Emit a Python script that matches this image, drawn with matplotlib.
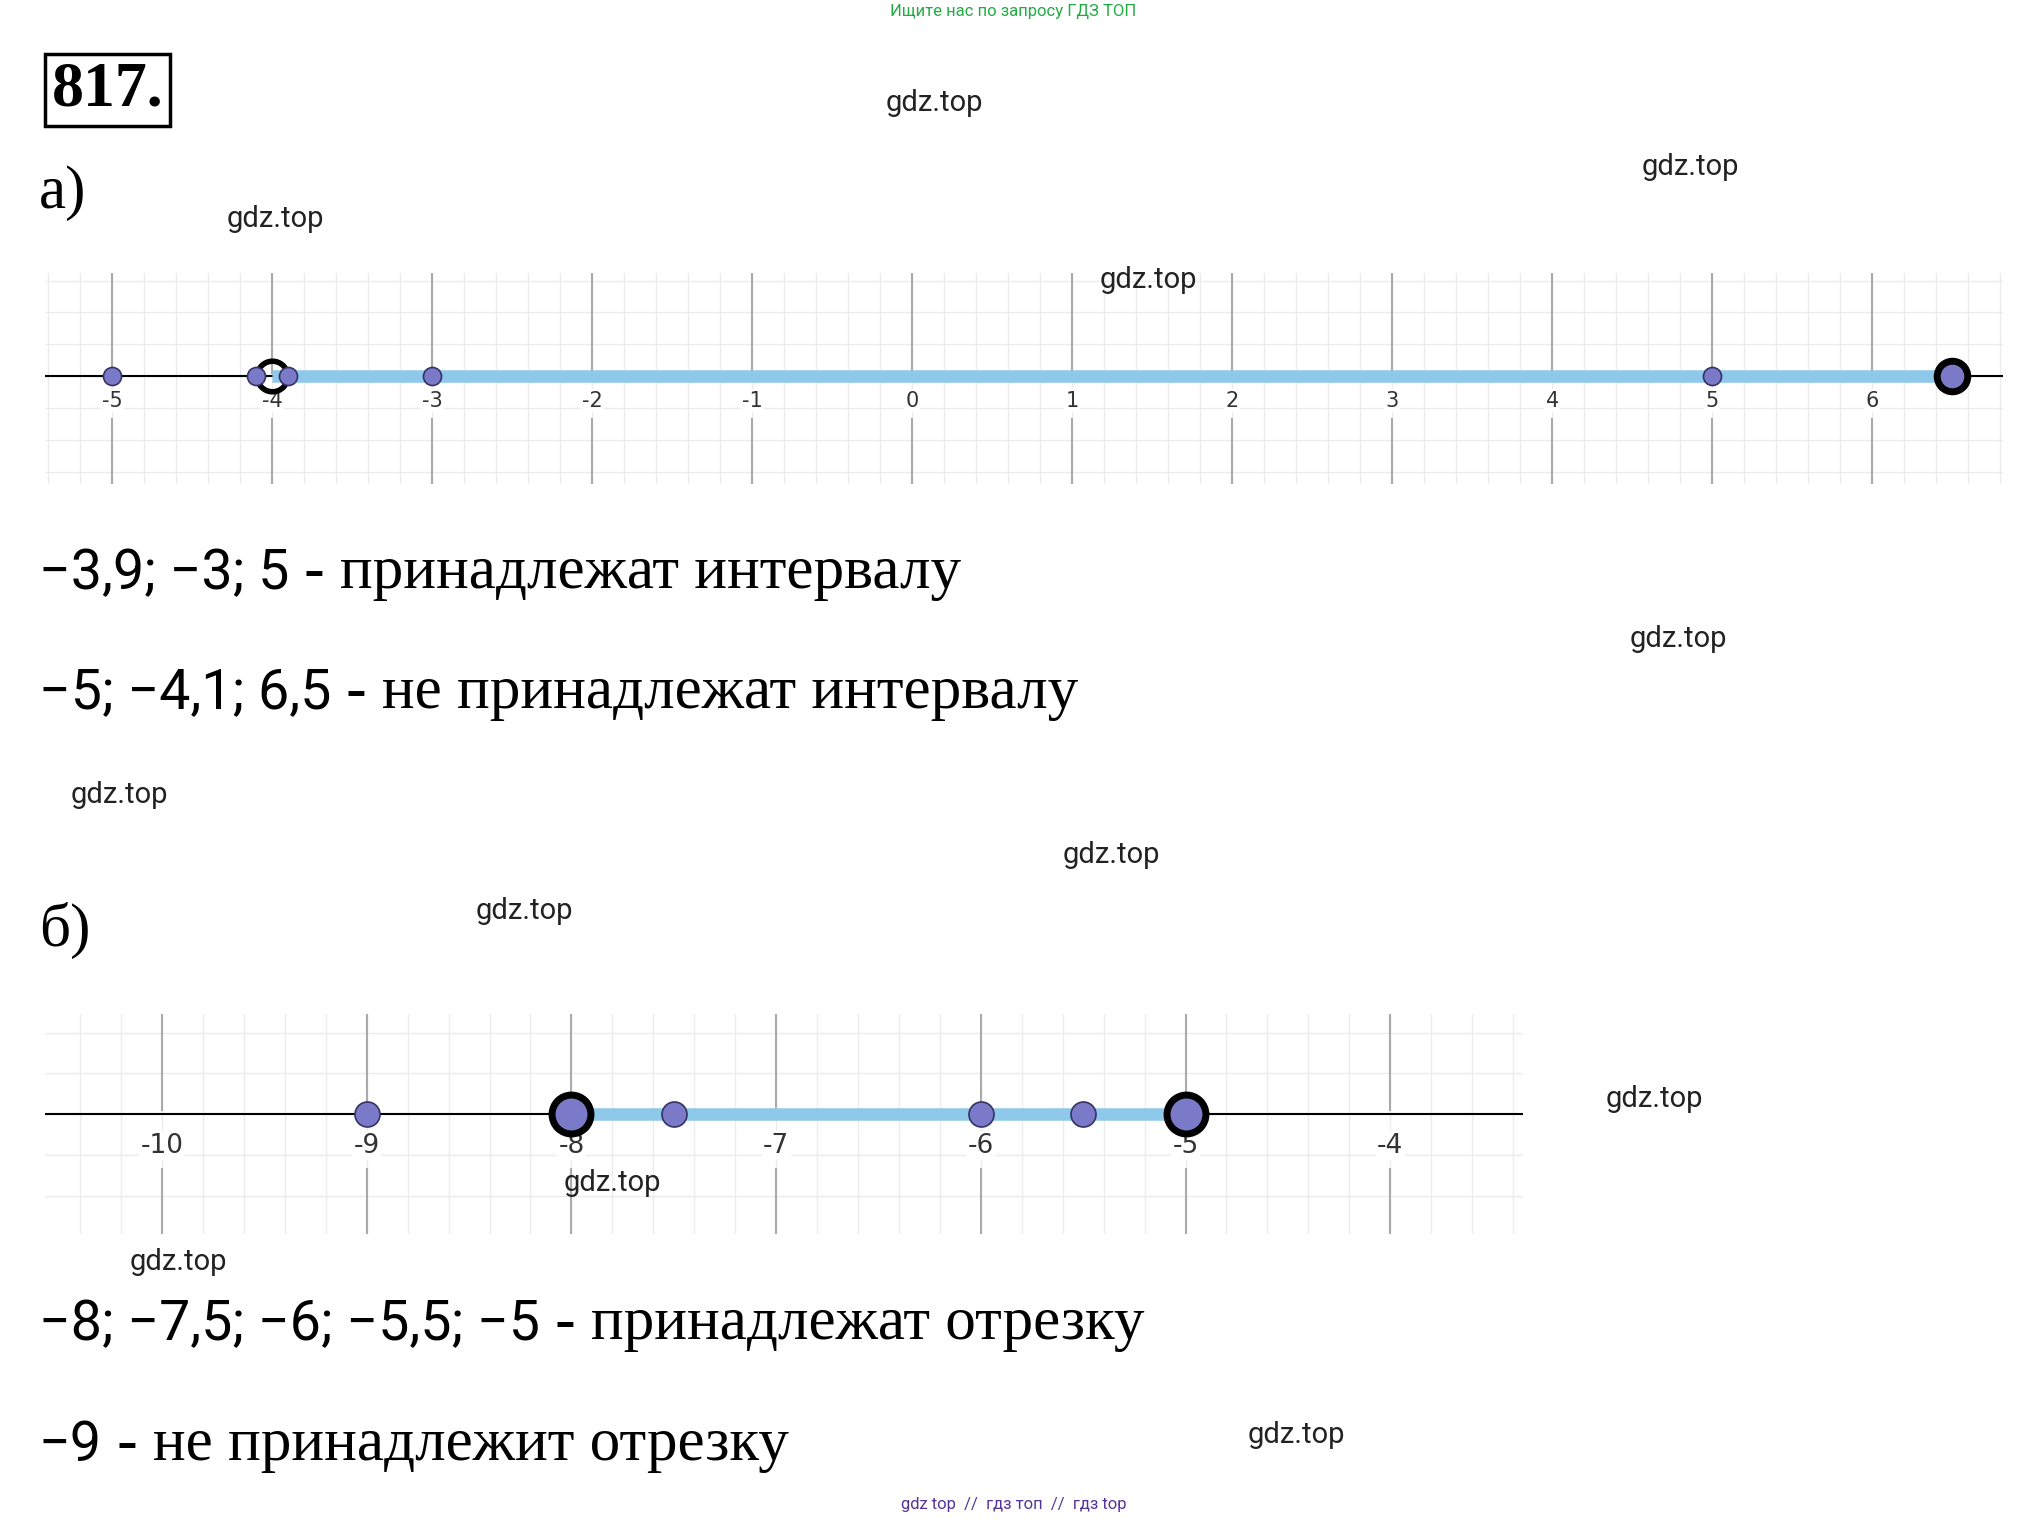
import matplotlib
matplotlib.use("Agg")
import matplotlib.pyplot as plt
import numpy as np

W, H = 1560, 1180
fig = plt.figure(figsize=(20.19, 15.2), dpi=100)

# data
a_ticks = [-5, -4, -3, -2, -1, 0, 1, 2, 3, 4, 5, 6]
a_band = (-4, 6.5)
a_points = [-5, -4.1, -3.9, -3, 5]
a_open = -4
a_closed = [6.5]
b_ticks = [-10, -9, -8, -7, -6, -5, -4]
b_band = (-8, -5)
b_points = [-9, -7.5, -6, -5.5]
b_closed = [-8, -5]

def fr(x0, y0, x1, y1):
    return [x0 / W, 1 - y1 / H, (x1 - x0) / W, (y1 - y0) / H]

def numline(rect, xlim, ylim, ticks, band, points, closed, open_pt=None, ms=13, big=24, fs=14):
    ax = fig.add_axes(rect)
    ax.set_xlim(*xlim); ax.set_ylim(*ylim)
    ax.axis('off')
    for x in np.arange(np.ceil(xlim[0] / 0.2) * 0.2, xlim[1], 0.2):
        ax.axvline(x, color='#ececec', lw=1, zorder=0)
    for y in np.arange(-3, 3, 0.2):
        if ylim[0] < y < ylim[1]:
            ax.axhline(y, color='#ececec', lw=1, zorder=0)
    for t in ticks:
        ax.plot([t, t], [ylim[0], -0.27], color='#aaaaaa', lw=1.5, zorder=1)
        ax.plot([t, t], [0.02, ylim[1]], color='#aaaaaa', lw=1.5, zorder=1)
        ax.text(t, -0.155, str(t), ha='center', va='center', fontsize=fs, color='#333333', zorder=2,
                bbox=dict(fc='white', ec='none', pad=1))
    ax.axhline(0, color='black', lw=1.5, zorder=2)
    ax.plot(band, [0, 0], color='#8ec8ea', lw=9, solid_capstyle='butt', zorder=3)
    ax.plot(points, [0] * len(points), 'o', ms=ms, mfc='#7a7ac8', mec='#333366', mew=1.2, zorder=5)
    ax.plot(closed, [0] * len(closed), 'o', ms=big, mfc='#7a7ac8', mec='black', mew=5, zorder=6)
    if open_pt is not None:
        ax.plot([open_pt], [0], 'o', ms=big, mfc='none', mec='black', mew=4, zorder=4)
    return ax

numline(fr(35, 212, 1548, 376), (-5.42, 6.82), (-0.68, 0.647), a_ticks, a_band, a_points, a_closed, a_open,
        ms=13, big=22, fs=15)
numline(fr(35, 787, 1177, 958), (-10.57, -3.35), (-0.588, 0.493), b_ticks, b_band, b_points, b_closed,
        ms=18, big=28, fs=19)

def T(x, y, s, **kw):
    return fig.text(x / W, 1 - y / H, s, **kw)

renderer = fig.canvas.get_renderer()

def mixed(x, y, nums, rest):
    t1 = T(x, y, nums, family='Roboto', fontsize=40, va='center')
    bb = t1.get_window_extent(renderer)
    x2 = bb.x1 / fig.bbox.width
    fig.text(x2, 1 - y / H, rest, family='Liberation Serif', fontsize=44, va='center')

serif = dict(family='Liberation Serif', fontsize=44, va='center')
T(40, 70, '817.', family='Liberation Serif', fontsize=46, fontweight='bold', va='center',
  bbox=dict(fc='white', ec='black', lw=2.5, pad=5))
T(30, 150, 'а)', **serif)
T(30, 722, 'б)', **serif)
mixed(30, 445, '−3,9; −3; 5', ' - принадлежат интервалу')
mixed(30, 538, '−5; −4,1; 6,5', ' - не принадлежат интервалу')
mixed(30, 1028, '−8; −7,5; −6; −5,5; −5', ' - принадлежат отрезку')
mixed(30, 1122, '−9', ' - не принадлежит отрезку')

wm = dict(family='Roboto', fontsize=21, color='#222222', va='center', ha='center')
for x, y in [(722, 80), (1306, 130), (213, 170), (887, 217), (1297, 496), (92, 617), (859, 664),
             (405, 707), (1278, 853), (473, 918), (138, 980), (1002, 1114)]:
    T(x, y, 'gdz.top', **wm)
T(783, 9, 'Ищите нас по запросу ГДЗ ТОП', family='Roboto', fontsize=12, color='#22aa44', ha='center', va='center')
T(783, 1168, 'gdz top  //  гдз топ  //  гдз top', family='Roboto', fontsize=12, color='#553399', ha='center', va='center')

fig.savefig('out.png', dpi=100, facecolor='white')
